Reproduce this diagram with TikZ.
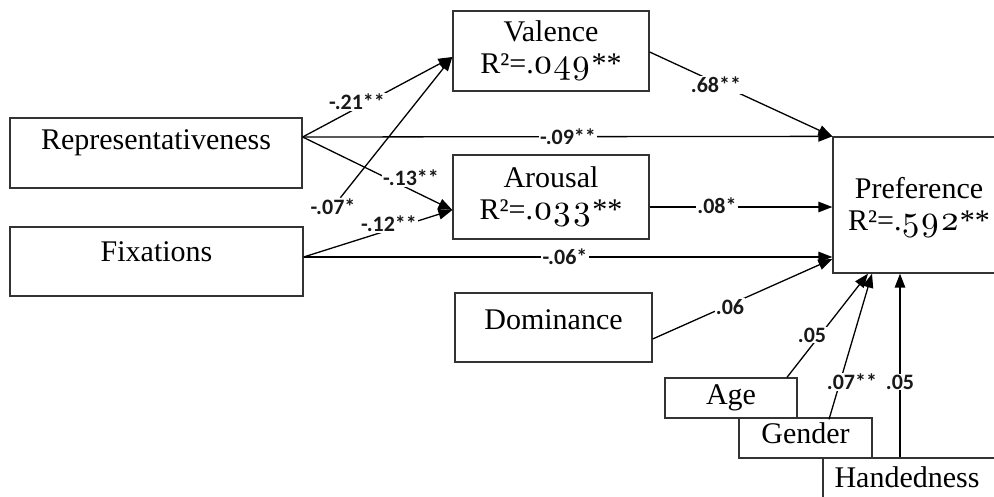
\documentclass[tikz,border=0pt]{standalone}
\usepackage{fontspec}
\setmainfont{Liberation Serif}
\newfontfamily\labfont{Carlito}
\newfontfamily\osfam{lmroman10-regular.otf}[Numbers=OldStyle]
\newcommand\osf[1]{{\osfam\fontsize{35}{32}\selectfont #1}}
\usetikzlibrary{arrows.meta,calc}

\tikzset{
  box/.style={draw=black!80, line width=1.3pt, fill=white, inner sep=0pt,
    font=\fontsize{30}{32}\selectfont, align=center},
  boxtxt/.style={font=\fontsize{30}{32}\selectfont, inner sep=0pt, align=center},
  lab/.style={fill=white, inner sep=1.2pt, text=black!90,
    font=\labfont\bfseries\fontsize{22}{22}\selectfont},
  arr/.style={line width=1.3pt, -{Triangle[length=14pt,width=10.5pt]}},
}

\begin{document}
\begin{tikzpicture}[x=1pt,y=-1pt]
\useasboundingbox (0,0) rectangle (994,497);
\clip (0,0) rectangle (994,497);

% variables
\node[box, minimum width=292pt, minimum height=70pt,
  label={[boxtxt,yshift=10pt]center:Representativeness}] (rep) at (156,153) {};
\node[box, minimum width=293pt, minimum height=69pt,
  label={[boxtxt,yshift=9.5pt]center:Fixations}] (fix) at (156.5,261.5) {};
\node[box, minimum width=196pt, minimum height=80pt] (val) at (551,51)
  {Valence\\R²=.\osf{049}**};
\node[box, minimum width=196pt, minimum height=84pt] (aro) at (551,197)
  {Arousal\\R²=.\osf{033}**};
\node[box, minimum width=172pt, minimum height=136pt,
  label={[boxtxt,yshift=-3pt]center:Preference\\R²=.\osf{592}**}] (pref) at (919,205) {};
\node[box, minimum width=197pt, minimum height=69pt,
  label={[boxtxt,yshift=7.5pt]center:Dominance}] (dom) at (553.5,327.5) {};
\node[box, minimum width=132pt, minimum height=40pt] (age) at (731,398) {Age};
\node[box, minimum width=133pt, minimum height=40pt,
  label={[boxtxt,yshift=5pt]center:Gender}] (gen) at (805.5,438) {};
\node[box, minimum width=187pt, minimum height=52pt,
  label={[boxtxt,xshift=-9.5pt,yshift=7pt]center:Handedness}] (hand) at (916.5,484) {};

% connector end points on the box sides
\coordinate (repO)  at ($(rep.east)+(0,-16)$);
\coordinate (fixO)  at ($(fix.east)+(0,-4.5)$);
\coordinate (valI)  at ($(val.west)+(0,6)$);
\coordinate (aroI)  at ($(aro.west)+(0,13)$);
\coordinate (valO)  at ($(val.east)+(0,1)$);
\coordinate (aroO)  at ($(aro.east)+(0,10)$);
\coordinate (domO)  at ($(dom.east)+(0,11.5)$);
\coordinate (prefA) at ($(pref.west)+(0,2)$);
\coordinate (prefF) at ($(pref.west)+(0,52)$);
\coordinate (prefD) at ($(pref.west)+(0,54)$);
\coordinate (prefAge) at ($(pref.south)+(-51,0)$);
\coordinate (prefGen) at ($(pref.south)+(-47,0)$);
\coordinate (prefHand) at ($(pref.south)+(-19,0)$);
\coordinate (ageO) at ($(age.north)+(56,0)$);
\coordinate (genO) at ($(gen.north)+(23.5,2)$);
\coordinate (handO) at (prefHand |- hand.north);

% paths
\draw[arr] (repO) -- (valI);
\draw[arr] (repO) -- (pref.north west);
\draw[arr] (repO) -- (aroI);
\draw[arr] (fixO) -- (aroI);
\draw[arr] (fixO) -- (prefF);
\draw[arr] (valO) -- (pref.north west);
\draw[arr] (aroO) -- (prefA);
\draw[arr] (domO) -- (prefD);
\draw[arr] (ageO) -- (prefAge);
\draw[arr] (genO) -- (prefGen);
\draw[arr] (handO) -- (prefHand);

% path coefficients
\node[lab] (l07) at (333,207) {-.07*};
\draw[arr] (l07) -- (valI);
\node[lab] (l21) at (357,102) {-.21**};
\node[lab] (l09) at (568,137) {-.09**};
\node[lab] (l13) at (411,178) {-.13**};
\node[lab] (l12) at (389,224) {-.12**};
\node[lab] (l06s) at (565,257) {-.06*};
\node[lab] (l68) at (716,85) {.68**};
\node[lab] (l08) at (717,206) {.08*};
\node[lab] (l06) at (730,307) {.06};
\node[lab] (l05a) at (812,335) {.05};
\node[lab] (l07g) at (852,382) {.07**};
\node[lab] (l05h) at (900,382) {.05};
\end{tikzpicture}
\end{document}
